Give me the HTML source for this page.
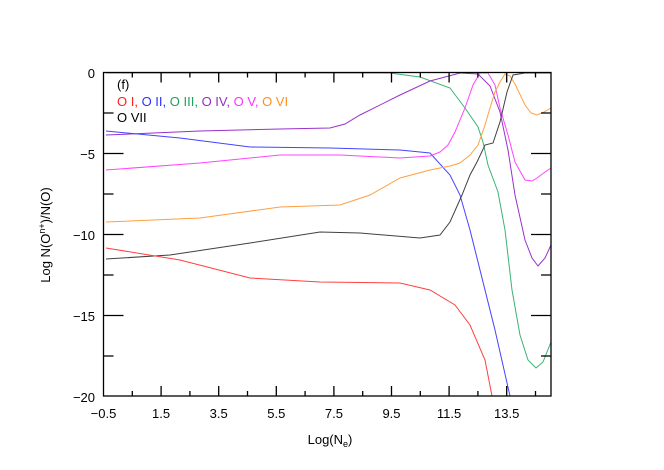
<!DOCTYPE html>
<html><head><style>body{margin:0;background:#fff}svg{display:block}text{font-family:"Liberation Sans",sans-serif;font-size:13px}</style></head><body>
<svg width="664" height="470" viewBox="0 0 664 470">
<g fill="none" stroke-width="1">
<polyline stroke="#3cb371" points="106,73 390,73 420,77 450,88 465,108 478,127 483,142 488,165 498,192 505,230 512,290 520,335 528,360 536,368 543,362 551,342"/>
<polyline stroke="#9932cc" points="106,135 200,131 280,129 330,128 345,124 360,115 400,95 430,81 460,73 478,74 490,86 500,112 508,150 515,195 525,240 532,258 538,266 545,258 551,245"/>
<polyline stroke="#4444ff" points="106,131 180,138 250,147 330,148 400,150 430,153 450,175 460,195 470,230 480,270 495,330 510,396"/>
<polyline stroke="#ff44ff" points="106,170 200,163 280,155 340,155 400,158 430,156 440,152 448,145 455,132 465,108 473,85 480,73 488,73 495,85 500,108 508,135 515,162 525,180 532,181 537,178 545,172 551,168"/>
<polyline stroke="#ffa040" points="106,222 200,218 280,207 340,205 370,195 400,178 430,170 450,166 460,163 470,155 478,145 485,125 490,108 495,92 500,82 505,74 510,76 515,84 525,105 531,113 537,115 544,112 551,108"/>
<polyline stroke="#404040" points="106,259 170,255 250,243 320,232 360,233 420,238 440,235 450,222 462,195 470,175 477,162 485,145 493,143 500,122 507,92 513,75 525,73 551,73"/>
<polyline stroke="#ff4040" points="106,248 180,260 250,278 320,282 400,283 430,290 455,305 470,325 485,360 492,396"/>
</g>
<g stroke="#000" stroke-width="1.3" fill="none">
<rect x="103.5" y="72.5" width="447.5" height="323.5"/>
<path d="M132.3,396v-5M161.1,396v-10M189.9,396v-5M218.7,396v-10M247.5,396v-5M276.3,396v-10M305.1,396v-5M333.9,396v-10M362.7,396v-5M391.5,396v-10M420.3,396v-5M449.1,396v-10M477.9,396v-5M506.7,396v-10M535.5,396v-5
M132.3,72.5v5M161.1,72.5v10M189.9,72.5v5M218.7,72.5v10M247.5,72.5v5M276.3,72.5v10M305.1,72.5v5M333.9,72.5v10M362.7,72.5v5M391.5,72.5v10M420.3,72.5v5M449.1,72.5v10M477.9,72.5v5M506.7,72.5v10M535.5,72.5v5
M103.5,113h10M103.5,153.5h20M103.5,194h10M103.5,234.5h20M103.5,275h10M103.5,315.5h20M103.5,356h10
M551,113h-10M551,153.5h-20M551,194h-10M551,234.5h-20M551,275h-10M551,315.5h-20M551,356h-10"/>
</g>
<g text-anchor="end">
<text x="95" y="78">0</text><text x="95" y="159">−5</text><text x="95" y="240">−10</text><text x="95" y="321">−15</text><text x="95" y="402">−20</text>
</g>
<g text-anchor="middle">
<text x="103.5" y="418">−0.5</text><text x="161.1" y="418">1.5</text><text x="218.7" y="418">3.5</text><text x="276.3" y="418">5.5</text><text x="333.9" y="418">7.5</text><text x="391.5" y="418">9.5</text><text x="449.1" y="418">11.5</text><text x="506.7" y="418">13.5</text>
<text x="330" y="444">Log(N<tspan font-size="9" dy="3">e</tspan><tspan dy="-3">)</tspan></text>
<text transform="translate(50,235) rotate(-90)">Log N(O<tspan font-size="9" dy="-5">n+</tspan><tspan dy="5">)/N(O)</tspan></text>
</g>
<text x="117" y="89">(f)</text>
<text x="117" y="106"><tspan fill="#ff2020">O I,</tspan> <tspan fill="#3030ff">O II,</tspan> <tspan fill="#20a060">O III,</tspan> <tspan fill="#9030c0">O IV,</tspan> <tspan fill="#ff30ff">O V,</tspan> <tspan fill="#ff9020">O VI</tspan></text>
<text x="117" y="122">O VII</text>
</svg>
</body></html>
